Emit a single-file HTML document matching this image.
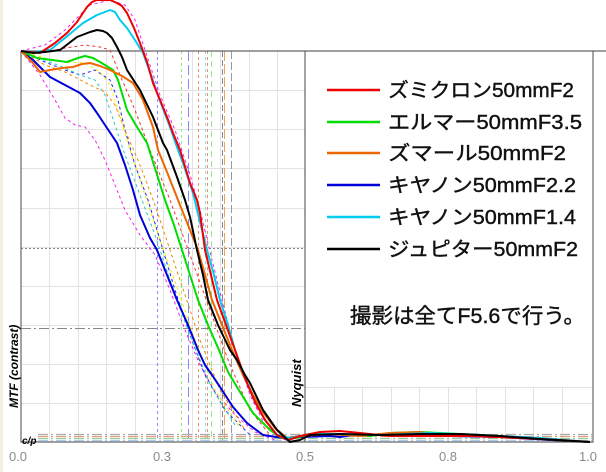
<!DOCTYPE html>
<html><head><meta charset="utf-8"><style>
html,body{margin:0;padding:0;background:#fff;}
svg{display:block;}
</style></head><body>
<svg width="606" height="472" viewBox="0 0 606 472" xmlns="http://www.w3.org/2000/svg" font-family="Liberation Sans, Noto Sans CJK JP, sans-serif">
<rect x="0" y="0" width="606" height="472" fill="#fff"/>
<rect x="0" y="0" width="3" height="472" fill="#f3efe0"/>
<g stroke="#e2e2e2" stroke-width="1">
<path d="M21 90.5H305M21 129.5H305M21 168.5H305M21 208.5H305M21 247.5H305M21 286.5H305M21 325.5H305M21 364.5H305M21 403.5H305"/>
<path d="M305 387.5H592M305 403.5H592"/>
<path d="M49.5 51V442M78.5 51V442M106.5 51V442M135.5 51V442M163.5 51V442M192.5 51V442M220.5 51V442M249.5 51V442M277.5 51V442"/>
<path d="M334.5 387V442M362.5 387V442M391.5 387V442M419.5 387V442M448.5 387V442M476.5 387V442M505.5 387V442M533.5 387V442M562.5 387V442"/>
</g>
<g stroke-width="1" fill="none">
<path d="M157.5 51V442" stroke="#8888ff" stroke-dasharray="3,3"/>
<path d="M181.5 51V442" stroke="#88ee88" stroke-dasharray="3,3"/>
<path d="M188.5 51V442" stroke="#8888ff" stroke-dasharray="10,4"/>
<path d="M198.5 51V442" stroke="#e89060" stroke-dasharray="3,3"/>
<path d="M205.5 51V442" stroke="#88ddee" stroke-dasharray="3,3"/>
<path d="M207.5 51V442" stroke="#e89060" stroke-dasharray="3,3"/>
<path d="M211.5 51V442" stroke="#88ee88" stroke-dasharray="6,4"/>
<path d="M222.5 51V442" stroke="#888" stroke-dasharray="6,3"/>
<path d="M224.5 51V442" stroke="#f0a060" stroke-dasharray="10,3"/>
<path d="M231.5 51V442" stroke="#999" stroke-dasharray="8,3"/>
</g>
<path d="M21 248.5H305" stroke="#888" stroke-dasharray="2,2"/>
<path d="M21 328.5H305" stroke="#888" stroke-dasharray="10,3,2,3"/>
<g stroke-width="1.3" fill="none" stroke-dasharray="10,3,2,3">
<path d="M38 434.5H592" stroke="#aaa"/>
<path d="M38 436.5H592" stroke="#e0a080"/>
<path d="M38 438.5H592" stroke="#99cc99"/>
<path d="M38 440.5H592" stroke="#aaccee"/>
</g>
<g stroke="#666" stroke-width="1.2" fill="none">
<path d="M21 51H606"/>
<path d="M21 51V442H593V51"/>
<path d="M305 51V442"/>
</g>
<g fill="none" stroke-width="1" stroke-dasharray="3,3">
<polyline stroke="#ee22ee" points="21,51 40,75 55,100 65,118 75,125 85,127 95,140 105,160 115,185 125,210 140,235 155,255 170,290 185,330 200,365 215,392 235,415 255,432 275,440"/>
<polyline stroke="#ee22ee" points="21,51 45,45 65,30 80,15 90,5 110,0 125,5 135,20 145,50 160,95 175,130 190,175 200,210 212,260 222,300 235,350 250,395 265,425 285,440"/>
<polyline stroke="#2222ee" points="21,51 45,62 65,70 80,75 95,70 110,80 118,100 125,130 135,165 148,200 160,240 175,290 190,335 205,375 225,410 250,435"/>
<polyline stroke="#22cccc" points="21,51 45,60 65,68 80,75 95,80 105,95 115,125 125,155 140,195 155,235 170,280 188,330 210,385 235,425"/>
<polyline stroke="#ee8800" points="21,51 45,65 65,72 90,85 105,92 115,105 125,130 140,165 155,205 170,250 185,295 200,340 220,390 245,430"/>
<polyline stroke="#eeee00" points="21,51 45,58 65,62 85,63 100,72 110,85 118,110 130,150 145,195 160,240 178,290 195,340 215,390 240,428"/>
<polyline stroke="#ee3333" points="21,51 45,52 65,48 85,45 100,47 110,50 120,75 135,110 150,150 170,200 190,255 210,310 230,365 250,410 270,435"/>
</g>
<g fill="none" stroke-width="2" stroke-linejoin="round">
<polyline stroke="#0000dd" points="21,51 33,60 50,77 65,85 80,93 90,103 97,113 107,128 117,143 125,165 133,190 140,215 150,238 157,250 167,275 177,300 188,325 198,350 205,365 212,375 220,387 233,407 247,423 263,435 283,438 300,437 330,436 340,437 360,434 400,436 450,436 500,437 550,440 590,442"/>
<polyline stroke="#00dd00" points="21,51 23,52 37,58 52,60 67,62 78,58 85,56 93,58 100,62 113,70 118,80 127,110 137,127 147,143 153,162 165,200 174,225 182,250 190,275 198,300 208,325 219,350 228,372 237,387 253,413 270,430 282,438 295,438 310,434 340,434 370,436 390,433 420,432 460,434 500,436 540,439 590,442"/>
<polyline stroke="#ee6600" points="21,51 28,58 33,63 40,72 50,70 62,68 73,67 82,64 90,63 100,66 110,70 122,76 133,83 143,100 153,127 158,150 167,172 178,200 188,225 198,250 205,275 212,300 222,325 232,350 243,375 253,395 263,412 275,428 287,438 300,436 330,434 360,436 390,433 420,432 440,436 480,436 540,439 590,442"/>
<polyline stroke="#00ccee" points="21,51 35,52 50,50 65,38 83,23 97,15 110,10 115,12 120,20 127,28 133,37 143,53 150,72 157,93 170,127 178,150 183,163 193,193 200,222 207,250 214,275 220,300 228,325 235,350 245,378 255,402 265,420 277,435 290,438 310,434 340,434 380,435 430,433 480,435 540,438 590,442"/>
<polyline stroke="#ee0000" points="21,51 40,53 55,43 67,33 77,22 87,7 92,2 97,0 110,0 117,3 122,6 127,13 134,28 140,43 147,62 153,83 160,100 167,117 173,133 180,150 190,183 197,200 200,213 205,250 211,275 217,300 226,325 235,350 245,378 255,402 265,420 277,435 288,440 300,436 320,432 340,431 360,433 390,436 430,436 470,436 520,438 560,440 590,442"/>
<polyline stroke="#000" points="21,51 33,53 45,52 60,50 77,37 90,32 97,30 103,31 107,33 112,38 117,47 122,57 127,70 140,90 153,117 163,143 167,150 177,177 185,200 190,217 197,250 203,275 208,300 218,325 230,350 237,360 245,375 250,383 263,410 277,430 290,442 300,440 310,435 340,434 380,435 420,434 460,434 500,436 540,439 590,442"/>
</g>
<rect x="306" y="52" width="286" height="334" fill="#fff"/>
<g stroke-width="2.5">
<path d="M327 90H380" stroke="#ee0000"/>
<path d="M327 122H380" stroke="#00dd00"/>
<path d="M327 153H380" stroke="#ee6600"/>
<path d="M327 185H380" stroke="#0000dd"/>
<path d="M327 217H380" stroke="#00ccee"/>
<path d="M327 249H380" stroke="#000"/>
</g>
<g font-size="20" fill="#111" stroke="#111" stroke-width="0.4">
<text x="388" y="97" textLength="186" lengthAdjust="spacingAndGlyphs">ズミクロン50mmF2</text>
<text x="388" y="129" textLength="194" lengthAdjust="spacingAndGlyphs">エルマー50mmF3.5</text>
<text x="388" y="160" textLength="178" lengthAdjust="spacingAndGlyphs">ズマール50mmF2</text>
<text x="388" y="192" textLength="188" lengthAdjust="spacingAndGlyphs">キヤノン50mmF2.2</text>
<text x="388" y="224" textLength="188" lengthAdjust="spacingAndGlyphs">キヤノン50mmF1.4</text>
<text x="388" y="256" textLength="190" lengthAdjust="spacingAndGlyphs">ジュピター50mmF2</text>
<text x="350" y="323" font-size="21" textLength="235" lengthAdjust="spacingAndGlyphs">撮影は全てF5.6で行う。</text>
</g>
<text transform="translate(18,408) rotate(-90)" font-size="12" font-style="italic" font-weight="bold" fill="#000">MTF (contrast)</text>
<text transform="translate(301,407) rotate(-90)" font-size="13" font-style="italic" font-weight="bold" fill="#000">Nyquist</text>
<text x="22" y="444" font-size="10" font-style="italic" font-weight="bold" fill="#000">c/p</text>
<g font-size="13" fill="#8a8a8a" text-anchor="middle">
<text x="18" y="461">0.0</text>
<text x="162" y="461">0.3</text>
<text x="305" y="461">0.5</text>
<text x="448" y="461">0.8</text>
<text x="588" y="461">1.0</text>
</g>
</svg>
</body></html>
